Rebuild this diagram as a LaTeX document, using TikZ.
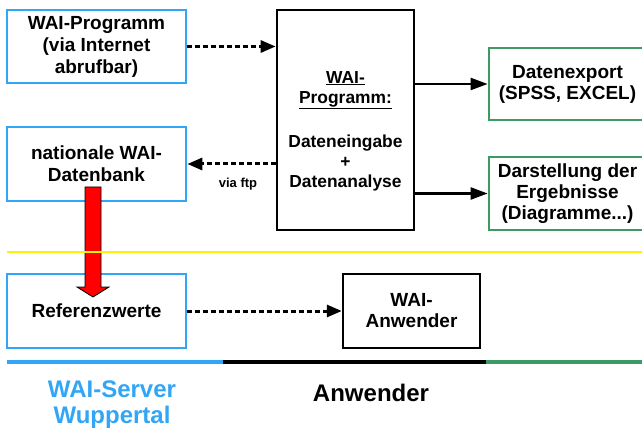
\documentclass[tikz,border=0pt]{standalone}
\usepackage{fontspec}
\setmainfont{Liberation Sans}
\usetikzlibrary{arrows.meta}
\definecolor{waiblue}{RGB}{50,166,246}
\definecolor{waigreen}{RGB}{60,154,98}
\tikzset{
  bluebox/.style={draw=waiblue,line width=2.7pt,rectangle,inner sep=0pt,align=center,font=\bfseries\fontsize{19}{22}\selectfont},
  greenbox/.style={draw=waigreen,line width=2.7pt,rectangle,inner sep=0pt,align=center,font=\bfseries\fontsize{19}{21}\selectfont},
  blackbox/.style={draw=black,line width=2.7pt,rectangle,inner sep=0pt,align=center},
  dasharrow/.style={line width=3pt,dash pattern=on 5pt off 3pt,-{Triangle[length=15pt,width=12pt]}},
  solidarrow/.style={line width=2.2pt,-{Triangle[length=17pt,width=12pt]}},
  centertext/.style={align=center,inner sep=0pt,font=\bfseries\fontsize{17.4}{20}\selectfont},
}
\begin{document}
\begin{tikzpicture}[x=1pt,y=-1pt]
\clip (0,0) rectangle (642,430);
\fill[white] (0,0) rectangle (642,430);
% boxes
\node[bluebox,minimum width=179pt,minimum height=73pt] (prog) at (96.5,46.5) {WAI-Programm\\(via Internet\\abrufbar)};
\node[bluebox,minimum width=179pt,minimum height=74pt] (db) at (96.5,164) {nationale WAI-\\Datenbank};
\node[blackbox,minimum width=137pt,minimum height=220pt] (central) at (345.5,120) {};
\node[centertext] (ctitle) at (345.5,90) {\underline{WAI-}\\\underline{Programm:}};
\node[centertext] (cbody) at (345.5,163.5) {Dateneingabe\\+\\Datenanalyse};
\node[greenbox,minimum width=157pt,minimum height=72pt] (export) at (567.5,84) {Datenexport\\(SPSS, EXCEL)};
\node[greenbox,minimum width=157pt,minimum height=73pt] (darst) at (567.5,193.5) {Darstellung der\\Ergebnisse\\(Diagramme...)};
\node[bluebox,minimum width=179pt,minimum height=74pt] (ref) at (96.5,311) {Referenzwerte};
\node[blackbox,line width=2.4pt,minimum width=137pt,minimum height=74pt,font=\bfseries\fontsize{19}{21}\selectfont] (anw) at (411.5,311) {WAI-\\Anwender};
% connectors
\draw[dasharrow] (prog.east) -- (prog.east -| central.west);
\draw[dasharrow] (db.east -| central.west) -- (db.east);
\node[font=\bfseries\fontsize{13}{15}\selectfont,inner sep=0pt] (ftp) at (238,184) {via ftp};
\draw[solidarrow] (central.east |- export.west) -- (export.west);
\draw[solidarrow] (central.east |- darst.west) -- (darst.west);
\draw[dasharrow] (ref.east) -- (ref.east -| anw.west);
% red block arrow
\draw[fill=red,draw=black,line width=0.8pt] (85,187) -- (101,187) -- (101,287) -- (109,287) -- (93,297) -- (77,287) -- (85,287) -- cycle;
% separator lines
\draw[yellow,line width=1.6pt] (7,252) -- (642,252);
\draw[waiblue,line width=3.3pt] (7,362) -- (223,362);
\draw[black,line width=3.3pt] (223,362) -- (486,362);
\draw[waigreen,line width=3.3pt] (486,362) -- (642,362);
% bottom labels
\node[text=waiblue,align=center,inner sep=0pt,font=\bfseries\fontsize{24}{26}\selectfont] (server) at (112,405) {WAI-Server\\Wuppertal};
\node[inner sep=0pt,font=\bfseries\fontsize{24}{26}\selectfont] (user) at (371,393) {Anwender};
\end{tikzpicture}
\end{document}
